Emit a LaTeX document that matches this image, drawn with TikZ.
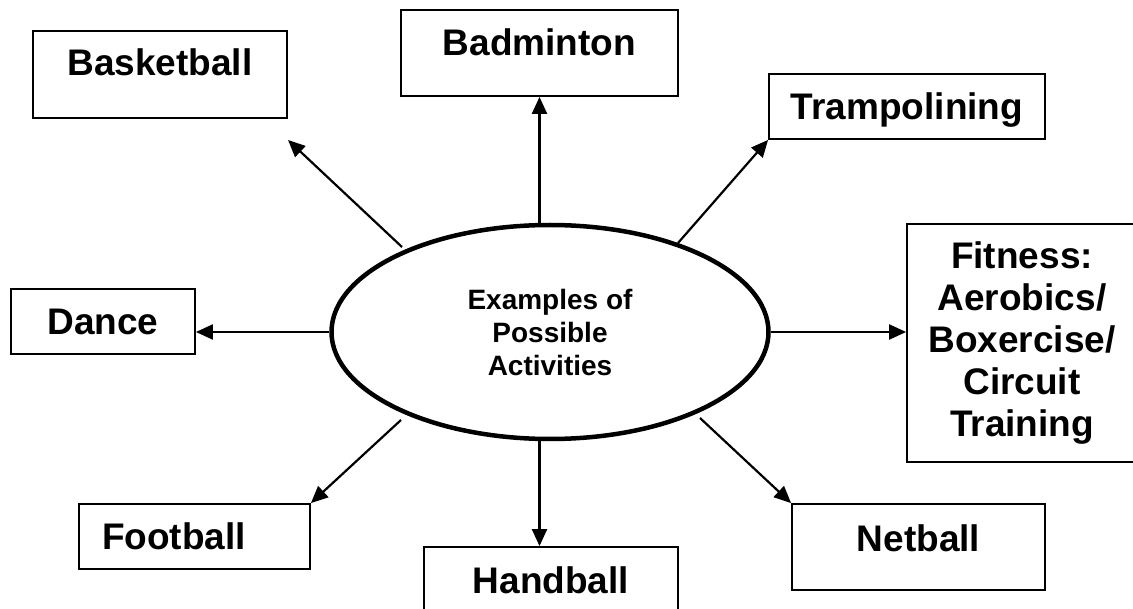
\documentclass[tikz,border=0pt]{standalone}
\usepackage{fontspec}
\setmainfont{Liberation Sans}
\usetikzlibrary{positioning,shapes.geometric,arrows.meta}
\newcommand*{\actfont}{\fontsize{37pt}{42pt}\selectfont\bfseries}

\tikzset{
  actbox/.style={draw,line width=1.8pt,inner sep=0pt,text height=28pt,font=\actfont},
  link/.style={line width=2.2pt,-{Triangle[length=17pt,width=15pt]}}
}

\begin{document}
\begin{tikzpicture}[x=1pt,y=-1pt]
\useasboundingbox (0,0) rectangle (1133,609);
% The ellipse in the middle
\node[ellipse,draw,line width=4.5pt,minimum width=437pt,minimum height=214pt,
      inner sep=0pt,align=center,font=\fontsize{28pt}{33pt}\selectfont\bfseries]
      (ell) at (550,332) {Examples of\\Possible\\Activities};
% Boxes of the activities
\node[actbox,minimum width=254pt,minimum height=87pt,text depth=25pt] (bask) at (160,74.5) {Basketball};
\node[actbox,minimum width=277pt,minimum height=86pt,text depth=22pt] (badm) at (539.5,53) {Badminton};
\node[actbox,minimum width=276pt,minimum height=65pt,text depth=2pt] (tramp) at (907,106.5) {Trampolining};
\node[draw,line width=1.8pt,inner sep=0pt,minimum width=230pt,minimum height=238pt,
      align=center,font=\actfont] (fit) at (1022,343) {Fitness:\\Aerobics/\\Boxercise/\\Circuit\\Training};
\node[actbox,minimum width=184pt,minimum height=65pt,text depth=2pt] (dance) at (103,321.5) {Dance};
\node[actbox,minimum width=231pt,minimum height=65pt,text depth=2pt,
      text width=185pt,align=left] (foot) at (194.5,536.5) {Football};
\node[actbox,minimum width=253pt,minimum height=86pt,text depth=20pt] (net) at (918.5,547) {Netball};
\node[actbox,minimum width=254pt,minimum height=86pt,text depth=22pt] (hand) at (551,590) {Handball};
% Free ends of the slanted arrows
\coordinate (baskfrom) at (402,247);
\coordinate (baskto) at (288,140);
\coordinate (trampfrom) at (678,243);
\coordinate (footfrom) at (401,420);
\coordinate (netfrom) at (700,418);
% Arrows out of the ellipse
\draw[link] (baskfrom) -- (baskto);
\draw[link] (ell.north -| badm.south) -- (badm.south);
\draw[link] (trampfrom) -- (tramp.south west);
\draw[link] (ell.east) -- (ell.east -| fit.west);
\draw[link] (netfrom) -- (net.north west);
\draw[link] (ell.south -| badm.south) -- (hand.north -| badm.south);
\draw[link] (footfrom) -- (foot.north east);
\draw[link] (ell.west) -- (ell.west -| dance.east);
\end{tikzpicture}
\end{document}
